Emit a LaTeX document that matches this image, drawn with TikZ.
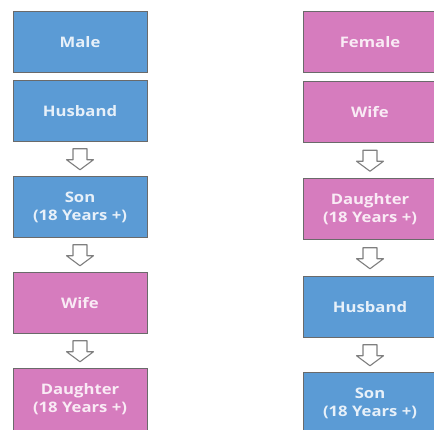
\documentclass[tikz,border=0pt]{standalone}
\usepackage{fontspec}
\setmainfont[FakeStretch=1.15]{Open Sans}
\usetikzlibrary{calc}
\definecolor{bluebox}{HTML}{5B9BD5}
\definecolor{pinkbox}{HTML}{D67CBE}
\definecolor{boxedge}{HTML}{6A6A6A}
\definecolor{arrowedge}{HTML}{7F7F7F}
\tikzset{
  x=1pt,y=-1pt,
  box/.style={draw=boxedge,line width=1pt,minimum width=134pt,minimum height=61pt,
    inner sep=0pt,align=center,
    font=\fontsize{14.5}{18}\selectfont\bfseries},
  bluefill/.style={box,fill=bluebox,text=white!85!bluebox},
  pinkfill/.style={box,fill=pinkbox,text=white!85!pinkbox},
  blockarrow/.style={draw=arrowedge,fill=white,line width=1.1pt,line join=round}
}
\newcommand\downarrowat[1]{%
  \draw[blockarrow] ($(#1)+(-7,-10.5)$) -- ($(#1)+(7,-10.5)$) -- ($(#1)+(7,0.5)$)
    -- ($(#1)+(13.5,0.5)$) -- ($(#1)+(0,10.5)$) -- ($(#1)+(-13.5,0.5)$)
    -- ($(#1)+(-7,0.5)$) -- cycle;}
\begin{document}
\begin{tikzpicture}
\useasboundingbox (0,0) rectangle (434,430);
\begin{scope}
\clip (0,0) rectangle (434,430);
% left column
\node[bluefill] (male) at (80,42.5) {Male};
\node[bluefill] (lhusband) at (80,111) {Husband};
\node[bluefill] (lson) at (80,207.5) {Son\\(18 Years +)};
\node[pinkfill] (lwife) at (80,303) {Wife};
\node[pinkfill] (ldaughter) at (80,399.5) {Daughter\\(18 Years +)};
% right column
\node[pinkfill] (female) at (370,42.5) {Female};
\node[pinkfill] (rwife) at (370,112) {Wife};
\node[pinkfill] (rdaughter) at (370,209.5) {Daughter\\(18 Years +)};
\node[bluefill] (rhusband) at (370,307) {Husband};
\node[bluefill] (rson) at (370,403.5) {Son\\(18 Years +)};
% block arrows
\coordinate (la1) at ($(lhusband.south)!0.5!(lson.north)$);
\coordinate (la2) at ($(lson.south)!0.5!(lwife.north)$);
\coordinate (la3) at ($(lwife.south)!0.5!(ldaughter.north)$);
\coordinate (ra1) at ($(rwife.south)!0.5!(rdaughter.north)$);
\coordinate (ra2) at ($(rdaughter.south)!0.5!(rhusband.north)$);
\coordinate (ra3) at ($(rhusband.south)!0.5!(rson.north)$);
\downarrowat{la1}
\downarrowat{la2}
\downarrowat{la3}
\downarrowat{ra1}
\downarrowat{ra2}
\downarrowat{ra3}
\end{scope}
\end{tikzpicture}
\end{document}
